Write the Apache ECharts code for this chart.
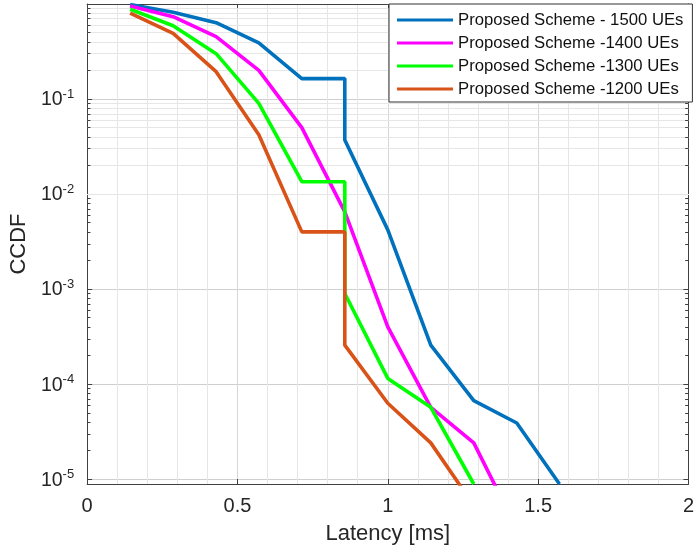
<!DOCTYPE html>
<html>
<head>
<meta charset="utf-8">
<script src="https://cdn.jsdelivr.net/npm/echarts@6/dist/echarts.min.js"></script>
<style>html,body{margin:0;padding:0;background:#fff}#c{width:697px;height:554px}</style>
</head>
<body>
<div id="c"></div>
<script>
// Latency [ms] sample points (steps repeat an x value)
var lat1500 = [0.143, 0.286, 0.429, 0.571, 0.714, 0.857, 0.857, 1.0, 1.143, 1.286, 1.429, 1.571];
var ccdf1500 = [0.99, 0.82, 0.635, 0.39, 0.164, 0.164, 0.037, 0.0042, 2.57e-4, 6.7e-5, 3.9e-5, 8.9e-6];

var lat1400 = [0.143, 0.286, 0.429, 0.571, 0.714, 0.857, 1.0, 1.143, 1.286, 1.429];
var ccdf1400 = [0.95, 0.735, 0.453, 0.20, 0.050, 0.0065, 4.0e-4, 5.7e-5, 2.41e-5, 3.0e-6];

var lat1300 = [0.143, 0.286, 0.429, 0.571, 0.714, 0.857, 0.857, 1.0, 1.143, 1.286];
var ccdf1300 = [0.88, 0.59, 0.30, 0.090, 0.0135, 0.0135, 9.0e-4, 1.15e-4, 5.7e-5, 8.9e-6];

var lat1200 = [0.143, 0.286, 0.429, 0.571, 0.714, 0.857, 0.857, 1.0, 1.143, 1.286];
var ccdf1200 = [0.80, 0.49, 0.194, 0.042, 0.0040, 0.0040, 2.57e-4, 6.3e-5, 2.41e-5, 5.3e-6];

var seriesNames = ['Proposed Scheme - 1500 UEs', 'Proposed Scheme -1400 UEs', 'Proposed Scheme -1300 UEs', 'Proposed Scheme -1200 UEs'];
var xTickLabels = ['0', '0.5', '1', '1.5', '2'];

var colors = ['#0072BD', '#FF00FF', '#00FF00', '#D95319'];
var FONT = 'Liberation Sans';

function pairs(xs, ys) { return xs.map(function (x, i) { return [x, ys[i]]; }); }

// minor log grid lines and minor ticks (decoration only)
var minorVals = [];
for (var e = -5; e <= -1; e++) {
  for (var d = 2; d <= 9; d++) minorVals.push(d * Math.pow(10, e));
}
var minorGrid = minorVals.map(function (v) { return { yAxis: v }; });
var TK = 0.011;
var minorTicks = [];
minorVals.forEach(function (v) {
  minorTicks.push([{ coord: [0, v] }, { coord: [TK, v] }]);
  minorTicks.push([{ coord: [2 - TK, v] }, { coord: [2, v] }]);
});

var YMIN = 8.9e-6, YMAX = 1;

var chart = echarts.init(document.getElementById('c'), null, { renderer: 'canvas' });
var lineSeries = [[lat1500, ccdf1500], [lat1400, ccdf1400], [lat1300, ccdf1300], [lat1200, ccdf1200]].map(function (s, i) {
  return {
    name: seriesNames[i], type: 'line', data: pairs(s[0], s[1]),
    symbol: 'none', showSymbol: false, clip: true, z: 3 + i,
    lineStyle: { color: colors[i], width: 3.6 },
    itemStyle: { color: colors[i] }
  };
});

chart.setOption({
  animation: false,
  backgroundColor: '#fff',
  grid: { left: 86, right: 7, top: 4, bottom: 70, containLabel: false },
  legend: {
    data: seriesNames, orient: 'vertical', left: 389, top: 4,
    padding: [6, 9, 3, 8], itemWidth: 56, itemHeight: 3, itemGap: 3, icon: 'rect',
    borderColor: '#333', borderWidth: 1, backgroundColor: '#fff',
    textStyle: { fontSize: 16.7, fontFamily: FONT, color: '#111', lineHeight: 20 }
  },
  xAxis: [{
    type: 'value', min: 0, max: 2, interval: 0.5,
    name: 'Latency [ms]', nameLocation: 'middle', nameGap: 39,
    nameTextStyle: { fontSize: 22, fontFamily: FONT, color: '#262626' },
    axisLine: { show: true, onZero: false, lineStyle: { color: '#404040', width: 1 } },
    axisTick: { show: true, inside: true, length: 5, lineStyle: { color: '#404040' } },
    axisLabel: { fontSize: 20, fontFamily: FONT, color: '#262626', margin: 12,
      formatter: function (v) { var i = Math.round(v / 0.5); return xTickLabels[i] !== undefined ? xTickLabels[i] : ''; } },
    splitLine: { show: true, lineStyle: { color: '#d6d6d6', width: 1 } },
    minorTick: { show: false, splitNumber: 5 },
    minorSplitLine: { show: true, lineStyle: { color: '#e6e6e6', width: 1 } }
  }, {
    type: 'value', min: 0, max: 2, interval: 0.5, position: 'top',
    axisLine: { show: true, onZero: false, lineStyle: { color: '#404040', width: 1 } },
    axisTick: { show: true, inside: true, length: 5, lineStyle: { color: '#404040' } },
    axisLabel: { show: false }, splitLine: { show: false }
  }],
  yAxis: [{
    type: 'log', logBase: 10, min: YMIN, max: YMAX,
    name: 'CCDF', nameLocation: 'middle', nameGap: 55,
    nameTextStyle: { fontSize: 22, fontFamily: FONT, color: '#262626' },
    axisLine: { show: true, onZero: false, lineStyle: { color: '#404040', width: 1 } },
    axisTick: { show: true, inside: true, length: 5, lineStyle: { color: '#404040' } },
    axisLabel: {
      margin: 13, fontFamily: FONT, color: '#262626',
      formatter: function (v) {
        var l = Math.log10(v), e = Math.round(l);
        if (Math.abs(l - e) > 1e-6 || e >= 0) return '';
        return '{b|10}{s|' + e + '}';
      },
      rich: {
        b: { fontSize: 19.5, fontFamily: FONT, color: '#262626', lineHeight: 22, padding: [4, 0, 0, 0], verticalAlign: 'bottom' },
        s: { fontSize: 13, fontFamily: FONT, color: '#262626', lineHeight: 14, verticalAlign: 'top' }
      }
    },
    splitLine: { show: true, lineStyle: { color: '#cfcfcf', width: 1 } }
  }, {
    type: 'log', logBase: 10, min: YMIN, max: YMAX, position: 'right',
    axisLine: { show: true, onZero: false, lineStyle: { color: '#404040', width: 1 } },
    axisTick: { show: true, inside: true, length: 5, lineStyle: { color: '#404040' } },
    axisLabel: { show: false }, splitLine: { show: false }
  }],
  series: [{
    name: 'minor grid', type: 'line', data: [], silent: true,
    markLine: {
      silent: true, symbol: ['none', 'none'], label: { show: false }, z: 1, animation: false,
      lineStyle: { color: '#e6e6e6', width: 1, type: 'solid' },
      emphasis: { disabled: true },
      data: minorGrid
    }
  }, {
    name: 'minor ticks', type: 'line', data: [], silent: true,
    markLine: {
      silent: true, symbol: ['none', 'none'], label: { show: false }, z: 2, animation: false,
      lineStyle: { color: '#404040', width: 1, type: 'solid' },
      emphasis: { disabled: true },
      data: minorTicks
    }
  }].concat(lineSeries)
});
</script>
</body>
</html>
